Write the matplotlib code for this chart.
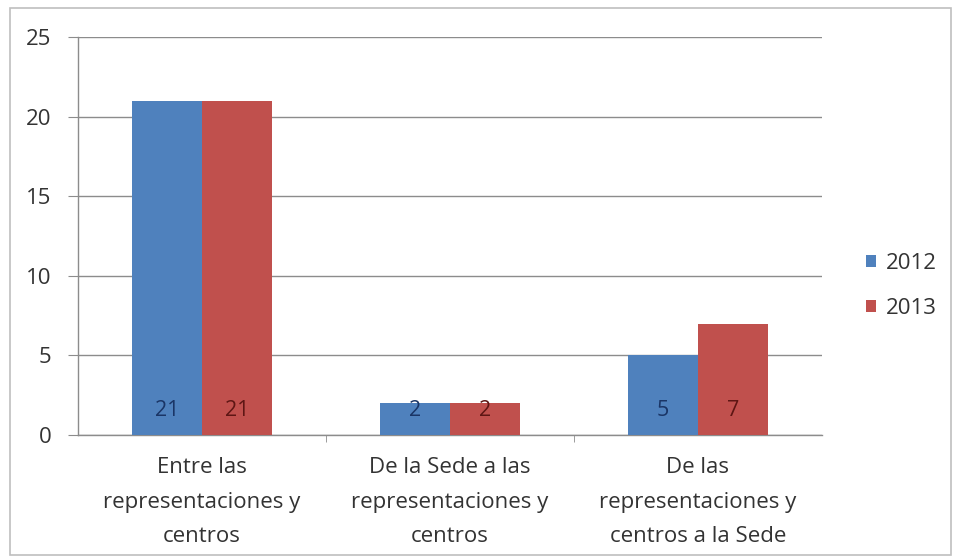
import matplotlib
matplotlib.use("Agg")
import matplotlib.pyplot as plt
import numpy as np
from matplotlib.patches import Rectangle

categories = ["Entre las\nrepresentaciones y\ncentros",
              "De la Sede a las\nrepresentaciones y\ncentros",
              "De las\nrepresentaciones y\ncentros a la Sede"]
series_names = ["2012", "2013"]
values_2012 = [21, 2, 5]
values_2013 = [21, 2, 7]
yticks = [0, 5, 10, 15, 20, 25]

plt.rcParams['font.family'] = ['Open Sans', 'DejaVu Sans']

fig = plt.figure(figsize=(9.56, 5.59), dpi=100)
fig.patches.append(Rectangle((10/956, 1-555/559), 941/956, 547/559, transform=fig.transFigure,
                             fill=False, edgecolor='#bfbfbf', linewidth=1.2))
ax = fig.add_axes([78/956, 1-435/559, 744/956, 398/559])

x = np.arange(len(categories))
w = 0.282
colors = ['#4F81BD', '#C0504D']
txtcol = ['#1a3566', '#5e1614']
for i, (vals, name) in enumerate(zip([values_2012, values_2013], series_names)):
    pos = x + (i - 0.5) * w
    ax.bar(pos, vals, width=w, color=colors[i], label=name, zorder=3)
    for p, v in zip(pos, vals):
        ax.annotate(str(v), (p, 0), xytext=(0, 17.5), textcoords='offset points',
                    ha='center', va='center', fontsize=15.5, color=txtcol[i], zorder=4)

ax.set_xlim(-0.5, 2.5)
ax.set_ylim(0, 25)
ax.set_yticks(yticks)
ax.yaxis.grid(True, color='#8c8c8c', linewidth=1, zorder=0)
ax.set_axisbelow(True)
ax.set_xticks(x)
ax.set_xticklabels(categories, fontsize=16, color='#333333', linespacing=1.85)
ax.tick_params(axis='x', length=0, pad=16)
ax.set_xticks([0.5, 1.5], minor=True)
ax.tick_params(axis='x', which='minor', length=5, color='#8c8c8c', direction='out')
ax.tick_params(axis='y', length=7, color='#8c8c8c', labelsize=16, labelcolor='#333333', pad=12)
for s in ['top', 'right']:
    ax.spines[s].set_visible(False)
for s in ['left', 'bottom']:
    ax.spines[s].set_color('#8c8c8c')
    ax.spines[s].set_linewidth(1)

leg = fig.legend(loc='center left', bbox_to_anchor=(866/956, 1-286/559), frameon=False,
                 fontsize=16, handlelength=0.45, handleheight=0.45, handletextpad=0.45,
                 labelspacing=1.1, borderaxespad=0.0, borderpad=0.0)
for t in leg.get_texts():
    t.set_color('#333333')

fig.savefig("out.png", dpi=100)
